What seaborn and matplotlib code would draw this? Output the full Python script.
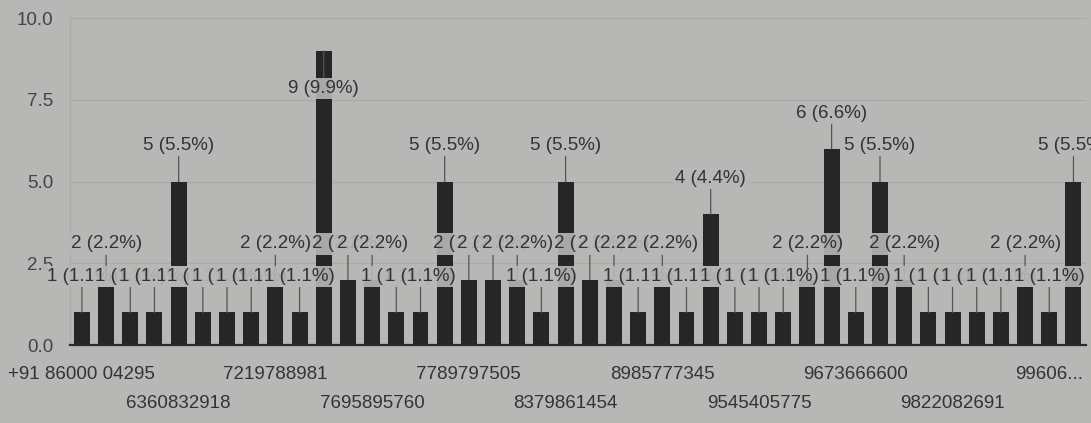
import matplotlib
matplotlib.use("Agg")
import matplotlib.pyplot as plt
import pandas as pd
import seaborn as sns

# phone numbers (sorted as strings); only every 4th one is legible in the picture
names = [
    "+91 86000 04295", "+91 98451 22310", "6204518873", "6301127745",
    "6360832918", "6378214590", "7002561348", "7019934462",
    "7219788981", "7338102546", "7406613379", "7483920155",
    "7695895760", "7702348816", "7738810294", "7760452218",
    "7789797505", "7892034461", "8050712239", "8147566302",
    "8379861454", "8431902276", "8618240057", "8792315540",
    "8985777345", "9008123476", "9110457862", "9342016658",
    "9545405775", "9591230044", "9620874431", "9645512098",
    "9673666600", "9731408825", "9769021137", "9810344762",
    "9822082691", "9845671203", "9880213349", "9916720458",
    "9960612873", "9986045512",
]
counts = [
    1, 2, 1, 1, 5, 1, 1, 1, 2, 1,
    9, 2, 2, 1, 1, 5, 2, 2, 2, 1,
    5, 2, 2, 1, 2, 1, 4, 1, 1, 1,
    2, 6, 1, 5, 2, 1, 1, 1, 1, 2,
    1, 5,
]
y_ticks = [0.0, 2.5, 5.0, 7.5, 10.0]

total = sum(counts)
df = pd.DataFrame({"number": names, "count": counts})

BG = "#b7b7b5"
INK = "#333333"
BAR = "#262626"

sns.set_theme(style="white")
plt.rcParams["font.family"] = ["Liberation Sans", "DejaVu Sans"]

fig = plt.figure(figsize=(10.91, 4.23), dpi=100, facecolor=BG)
ax = fig.add_axes([0.064, 0.184, 0.931, 0.773], facecolor=BG)

sns.barplot(data=df, x="number", y="count", color=BAR, saturation=1,
            width=0.66, errorbar=None, linewidth=0, ax=ax)

ax.set_xlim(-0.5, len(names) - 0.5)
ax.set_ylim(0, 10)
ax.set_yticks(y_ticks)
ax.set_yticklabels([f"{t:.1f}" for t in y_ticks])
ax.yaxis.grid(True, color="#a9a9a7", lw=0.8)
ax.set_axisbelow(True)
ax.set_xlabel("")
ax.set_ylabel("")

for s in ["top", "right"]:
    ax.spines[s].set_visible(False)
ax.spines["left"].set_color("#a9a9a7")
ax.spines["left"].set_linewidth(0.8)
ax.spines["bottom"].set_color("#2a2a2a")
ax.spines["bottom"].set_linewidth(1.6)

# staggered category labels: every 4th bar, two rows
major = list(range(0, len(names), 8))
minor = list(range(4, len(names), 8))
major_labels = [names[i] for i in major]
major_labels[-1] = major_labels[-1][:5] + "..."
ax.set_xticks(major)
ax.set_xticklabels(major_labels)
ax.set_xticks(minor, minor=True)
ax.set_xticklabels([names[i] for i in minor], minor=True)
ax.tick_params(axis="x", which="major", length=0, pad=15, labelsize=13.5, labelcolor=INK)
ax.tick_params(axis="x", which="minor", length=0, pad=36, labelsize=13.5, labelcolor=INK)
ax.tick_params(axis="y", length=0, pad=12, labelsize=13.5, labelcolor="#444444")

# value labels with leader lines
for i, v in enumerate(counts):
    ly = v + 1.1 if v + 1.1 < 9.6 else v - 1.15
    ax.annotate(f"{v} ({v / total * 100:.1f}%)", xy=(i, v), xytext=(i, ly),
                ha="center", va="center", fontsize=13.5, color=INK,
                bbox=dict(boxstyle="square,pad=0.12", fc=BG, ec="none", alpha=0.9),
                arrowprops=dict(arrowstyle="-", color="#555555", lw=0.9,
                                shrinkA=0, shrinkB=0))

fig.savefig("out.png", dpi=100, facecolor=BG)
